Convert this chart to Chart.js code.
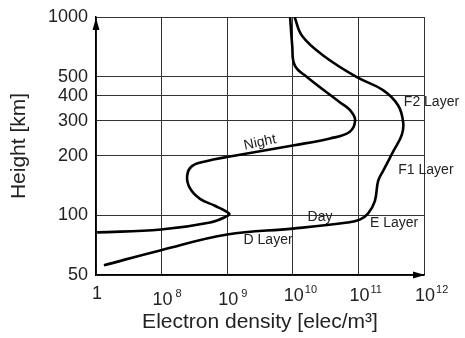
<!DOCTYPE html>
<html>
<head>
<meta charset="utf-8">
<script src="https://cdn.jsdelivr.net/npm/chart.js@4.4.0/dist/chart.umd.min.js"></script>
<style>
  html, body { margin: 0; padding: 0; background: #fff; }
  canvas { display: block; }
</style>
</head>
<body>
<canvas id="ionoChart" width="465" height="338"></canvas>
<script>
// electron density profiles (elec/m^3 against height in km)
var nightDensity = [1.04e7, 9.8e7, 5.5e8, 1.0e9, 1.07e9, 6.5e8, 3.85e8, 2.7e8, 2.45e8, 2.9e8, 4.6e8, 1.1e9, 1.0e10, 3.7e10, 7.4e10, 8.9e10, 7.4e10, 5.2e10, 1.66e10, 1.07e10, 9.8e9, 9.1e9];
var nightHeight  = [82, 84.8, 92, 99, 102, 111.7, 121, 137, 158, 177, 187, 198, 225, 244, 264, 303, 340, 372, 497, 570, 718, 995];

var dayDensity = [1.32e7, 9.8e7, 1.0e9, 1.0e10, 6.8e10, 1.05e11, 1.4e11, 1.78e11, 2.0e11, 2.37e11, 3.4e11, 4.6e11, 4.8e11, 4.0e11, 2.37e11, 9.5e10, 2.9e10, 1.38e10, 1.07e10];
var dayHeight  = [56, 66.7, 80, 85.7, 91.9, 95.1, 101.9, 118, 149, 167, 210, 255, 297, 360, 428, 497, 640, 804, 995];

var heightTicks  = [50, 100, 200, 300, 400, 500, 1000];
var densityTicks = [1e7, 1e8, 1e9, 1e10, 1e11, 1e12];
var densityExp   = ["", "8", "9", "10", "11", "12"];

// text labels placed at data coordinates
var labelText    = ["Night", "Day", "D Layer", "E Layer", "F1 Layer", "F2 Layer"];
var labelDensity = [3.16e9, 2.6e10, 4.2e9, 3.5e11, 1.07e12, 1.3e12];
var labelHeight  = [233, 98.4, 74.7, 91.8, 169, 372];
var labelAngle   = [-12, 0, 0, 0, 0, 0];

function pts(xs, ys) {
    var out = [];
    for (var i = 0; i < xs.length; i++) {
        out.push({x: xs[i], y: ys[i]});
    }
    return out;
}

var FONT = "'Liberation Sans', Arial, Helvetica, sans-serif";

var extras = {
    id: 'extras',
    afterDraw: function(chart) {
        var ctx = chart.ctx;
        var xs = chart.scales.x;
        var ys = chart.scales.y;
        var area = chart.chartArea;
        ctx.save();

        // arrow heads at the axis ends
        ctx.fillStyle = '#000';
        ctx.beginPath();
        ctx.moveTo(area.left, area.top + 1);
        ctx.lineTo(area.left - 3.5, area.top + 13);
        ctx.lineTo(area.left + 3.5, area.top + 13);
        ctx.closePath();
        ctx.fill();
        ctx.beginPath();
        ctx.moveTo(area.right + 1, area.bottom);
        ctx.lineTo(area.right - 11, area.bottom - 3.5);
        ctx.lineTo(area.right - 11, area.bottom + 3.5);
        ctx.closePath();
        ctx.fill();

        // x tick labels with exponents
        ctx.fillStyle = '#222';
        ctx.textBaseline = 'alphabetic';
        for (var i = 0; i < densityTicks.length; i++) {
            var px = xs.getPixelForValue(densityTicks[i]);
            ctx.font = '18px ' + FONT;
            if (densityExp[i] === "") {
                ctx.textAlign = 'center';
                ctx.fillText('1', px + 1, 299);
                continue;
            }
            var bw = ctx.measureText('10').width;
            var gap = densityExp[i].length > 1 ? 1 : 3;
            var start = px - bw / 2 + 1;
            var base = i < 3 ? 305 : 301;
            ctx.textAlign = 'left';
            ctx.fillText('10', start, base);
            ctx.font = '11px ' + FONT;
            ctx.fillText(densityExp[i], start + bw + gap, base - 8);
        }

        // curve labels
        ctx.font = '14px ' + FONT;
        ctx.textAlign = 'center';
        ctx.textBaseline = 'middle';
        for (var j = 0; j < labelText.length; j++) {
            ctx.save();
            ctx.translate(xs.getPixelForValue(labelDensity[j]), ys.getPixelForValue(labelHeight[j]));
            ctx.rotate(labelAngle[j] * Math.PI / 180);
            ctx.fillText(labelText[j], 0, 0);
            ctx.restore();
        }
        ctx.restore();
    }
};

var ctx = document.getElementById('ionoChart').getContext('2d');
var chart = new Chart(ctx, {
    type: 'scatter',
    data: {
        datasets: [{
            label: 'Night',
            data: pts(nightDensity, nightHeight),
            showLine: true,
            borderColor: '#000',
            borderWidth: 2.6,
            pointRadius: 0,
            tension: 0.4
        }, {
            label: 'Day',
            data: pts(dayDensity, dayHeight),
            showLine: true,
            borderColor: '#000',
            borderWidth: 2.6,
            pointRadius: 0,
            tension: 0.4
        }]
    },
    options: {
        responsive: false,
        animation: false,
        maintainAspectRatio: false,
        layout: { padding: { top: 6, right: 41, left: 0, bottom: 0 } },
        plugins: { legend: { display: false }, tooltip: { enabled: false } },
        scales: {
            x: {
                type: 'logarithmic',
                min: 1e7,
                max: 1e12,
                afterBuildTicks: function(axis) {
                    axis.ticks = densityTicks.map(function(v) { return {value: v}; });
                },
                afterFit: function(axis) { axis.height = 63; },
                ticks: { display: false },
                grid: { color: '#333', lineWidth: 1, drawTicks: false },
                border: { color: '#000', width: 1.5 },
                title: {
                    display: true,
                    text: 'Electron density [elec/m\u00b3]',
                    font: { family: FONT, size: 21 },
                    color: '#222',
                    padding: { top: 30, bottom: 3 }
                }
            },
            y: {
                type: 'logarithmic',
                min: 50,
                max: 1000,
                afterBuildTicks: function(axis) {
                    axis.ticks = heightTicks.map(function(v) { return {value: v}; });
                },
                afterFit: function(axis) { axis.width = 96; },
                ticks: {
                    color: '#222',
                    padding: 8,
                    autoSkip: false,
                    font: { family: FONT, size: 18, lineHeight: 1 },
                    callback: function(v) { return String(v); }
                },
                grid: { color: '#333', lineWidth: 1, drawTicks: false },
                border: { color: '#000', width: 1.5 },
                title: {
                    display: true,
                    text: 'Height [km]',
                    font: { family: FONT, size: 21 },
                    color: '#222',
                    padding: { top: 7, bottom: 0 }
                }
            }
        }
    },
    plugins: [extras]
});
</script>
</body>
</html>
